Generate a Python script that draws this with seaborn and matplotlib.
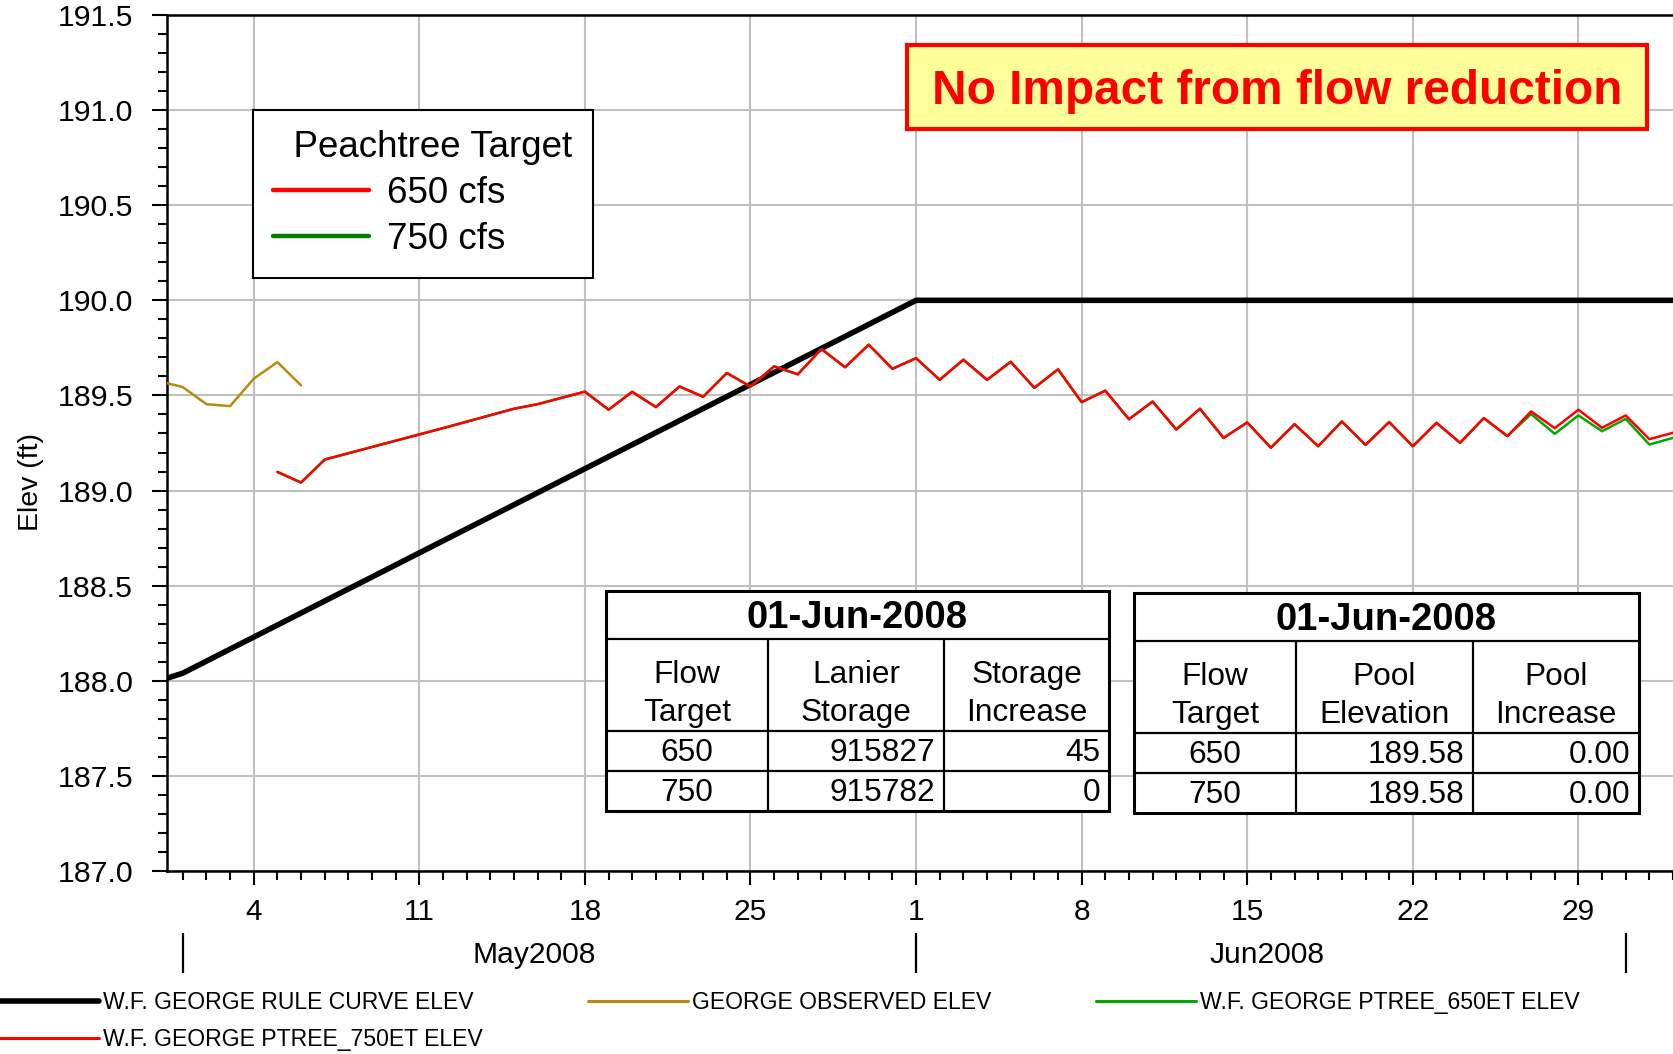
import numpy as np
import pandas as pd
import matplotlib
matplotlib.use("Agg")
import matplotlib.pyplot as plt
import matplotlib.dates as mdates
from matplotlib.lines import Line2D
from matplotlib.patches import Rectangle
from matplotlib.transforms import Affine2D
from matplotlib.ticker import MultipleLocator, FormatStrFormatter
import seaborn as sns

# ---------------- data ----------------
rule_dates = ["2008-04-30", "2008-05-01", "2008-06-01", "2008-07-04"]
rule_elev = [188.00, 188.04, 190.00, 190.00]

obs_dates = ["2008-04-30", "2008-05-01", "2008-05-02", "2008-05-03",
             "2008-05-04", "2008-05-05", "2008-05-06"]
obs_elev = [189.575, 189.544, 189.454, 189.444, 189.588, 189.675, 189.553]

early_dates = ["2008-05-05", "2008-05-06", "2008-05-07", "2008-05-11",
               "2008-05-12", "2008-05-15", "2008-05-16"]
early_elev = [189.098, 189.042, 189.163, 189.295, 189.328, 189.430, 189.454]

daily_start = "2008-05-18"
# shared daily values May 18 .. Jun 26 (both runs identical)
shared_elev = [189.520, 189.425, 189.519, 189.439, 189.547, 189.493, 189.618,
               189.547, 189.653, 189.611, 189.744, 189.648, 189.767, 189.640,
               189.696, 189.582, 189.688, 189.582, 189.677, 189.540, 189.637,
               189.465, 189.525, 189.375, 189.468, 189.321, 189.430, 189.277,
               189.358, 189.225, 189.349, 189.233, 189.363, 189.240, 189.360,
               189.233, 189.356, 189.251, 189.381, 189.286]
# Jun 27 .. Jul 3
ptree750_tail = [189.416, 189.328, 189.425, 189.330, 189.395, 189.270, 189.304]
ptree650_tail = [189.402, 189.298, 189.395, 189.312, 189.377, 189.242, 189.277]

series_labels = ["W.F. GEORGE RULE CURVE ELEV", "GEORGE OBSERVED ELEV",
                 "W.F. GEORGE PTREE_650ET ELEV", "W.F. GEORGE PTREE_750ET ELEV"]
inner_legend_title = "Peachtree Target"
inner_legend_labels = ["650 cfs", "750 cfs"]
banner_text = "No Impact from flow reduction"

table_date = "01-Jun-2008"
flow_targets = [650, 750]
lanier_storage = [915827, 915782]
storage_increase = [45, 0]
pool_elevation = [189.58, 189.58]
pool_increase = [0.00, 0.00]
storage_headers = ["Flow\nTarget", "Lanier\nStorage", "Storage\nIncrease"]
pool_headers = ["Flow\nTarget", "Pool\nElevation", "Pool\nIncrease"]

month_starts = ["2008-05-01", "2008-06-01", "2008-07-01"]
month_labels = ["May2008", "Jun2008"]

# ---------------- style ----------------
sns.set_theme(style="white")
plt.rcParams["font.family"] = ["Liberation Sans", "DejaVu Sans"]
plt.rcParams["text.color"] = "black"
plt.rcParams["axes.labelcolor"] = "black"
plt.rcParams["xtick.color"] = "black"
plt.rcParams["ytick.color"] = "black"

C_RULE = "#000000"
C_OBS = "#B88C0A"
C_650 = "#00A800"
C_750 = "#FF0000"

W, H = 1674, 1054
fig = plt.figure(figsize=(W / 100, H / 100), dpi=100)
fig.patch.set_facecolor("white")
px = Affine2D().scale(1 / W, -1 / H).translate(0, 1) + fig.transFigure

ax = fig.add_axes([167 / W, 1 - 871 / H, (W - 167) / W, (871 - 15) / H])
ax.set_facecolor("white")

# ---------------- series ----------------
daily_dates = pd.date_range(daily_start, periods=len(shared_elev) + len(ptree750_tail))
ptree_dates = pd.to_datetime(early_dates).append(daily_dates)
ptree750 = early_elev + shared_elev + ptree750_tail
ptree650 = early_elev + shared_elev + ptree650_tail

sns.lineplot(x=pd.to_datetime(rule_dates), y=rule_elev, ax=ax, color=C_RULE,
             linewidth=4.0, legend=False, zorder=3)
sns.lineplot(x=pd.to_datetime(obs_dates), y=obs_elev, ax=ax, color=C_OBS,
             linewidth=1.8, legend=False, zorder=4)
sns.lineplot(x=ptree_dates, y=ptree650, ax=ax, color=C_650,
             linewidth=1.8, legend=False, zorder=5)
sns.lineplot(x=ptree_dates, y=ptree750, ax=ax, color=C_750,
             linewidth=1.8, legend=False, zorder=6)

# ---------------- axes ----------------
ax.set_xlim(pd.Timestamp("2008-04-30 08:00"), pd.Timestamp("2008-07-03 01:00"))
ax.set_ylim(187.0, 191.5)
ax.yaxis.set_major_locator(MultipleLocator(0.5))
ax.yaxis.set_minor_locator(MultipleLocator(0.1))
ax.yaxis.set_major_formatter(FormatStrFormatter("%.1f"))
ax.xaxis.set_major_locator(mdates.WeekdayLocator(byweekday=mdates.SU))
ax.xaxis.set_minor_locator(mdates.DayLocator())
ax.xaxis.set_major_formatter(mdates.DateFormatter("%-d"))

ax.grid(which="major", color="#C0C0C0", linewidth=1.5)
ax.set_axisbelow(True)
for s in ["left", "bottom", "top"]:
    ax.spines[s].set_color("black")
    ax.spines[s].set_linewidth(1.8)
ax.spines["right"].set_visible(False)

ax.tick_params(axis="y", which="major", length=10.8, width=1.5, pad=13.5,
               labelsize=21.8, direction="out", color="black", left=True, right=False)
ax.tick_params(axis="y", which="minor", length=6.8, width=1.5, direction="out",
               color="black", left=True, right=False)
ax.tick_params(axis="x", which="major", length=9.8, width=1.5, pad=9.5,
               labelsize=21.5, direction="out", color="black", bottom=True, top=False)
ax.tick_params(axis="x", which="minor", length=6.2, width=1.5, direction="out",
               color="black", bottom=True, top=False)
for lab in ax.get_xticklabels() + ax.get_yticklabels():
    lab.set_color("black")

ax.set_xlabel("")
ax.set_ylabel("Elev (ft)", fontsize=20.5, color="black")
ax.yaxis.set_label_coords((44 - 167) / (W - 167), (871 - 481.7) / 856)

# month brackets and labels
xt = ax.get_xaxis_transform()
ms = mdates.date2num(pd.to_datetime(month_starts))
ax.vlines(ms, (871 - 933) / 856, (871 - 973) / 856, transform=xt,
          colors="black", linewidth=1.6, clip_on=False)
for m, lab in zip(ms[:-1], month_labels):
    ax.text(m + 14.85, (871 - 955) / 856, lab, transform=xt, ha="center",
            va="center", fontsize=21.6, color="black")

# ---------------- inner legend ----------------
inner_handles = [Line2D([], [], color=C_750, lw=3.2),
                 Line2D([], [], color="#007F00", lw=3.2)]
leg = ax.legend(handles=inner_handles, labels=inner_legend_labels,
                title="  " + inner_legend_title, loc="upper left",
                bbox_to_anchor=(253 / W, 1 - 110 / H), bbox_transform=fig.transFigure,
                fontsize=26.5, title_fontsize=26.5, frameon=True, fancybox=False,
                edgecolor="black", framealpha=1, borderaxespad=0, borderpad=0.55,
                handlelength=2.6, handletextpad=0.5, labelspacing=0.3,
                alignment="left")
leg.get_frame().set_linewidth(1.5)
leg.get_title().set_color("black")
for t in leg.get_texts():
    t.set_color("black")
leg.set_zorder(10)

# ---------------- banner ----------------
fig.add_artist(Rectangle((907, 45), 740, 84, transform=px, facecolor="#FFFF99",
                         edgecolor="#FF0000", linewidth=3.0, zorder=10))
fig.text(1277, 103.5, banner_text, transform=px, ha="center", va="baseline",
         fontsize=34.4, fontweight="bold", color="#FF0000", zorder=11)

# ---------------- tables ----------------
def draw_table(x0, x1, cols, rows_y, headers, body, dy=0):
    top, r1, r2, r3, bot = [y + dy for y in rows_y]
    fig.add_artist(Rectangle((x0, top), x1 - x0, bot - top, transform=px,
                             facecolor="white", edgecolor="none", zorder=10))
    xs = [x0] + cols + [x1]
    for y in (r1, r2, r3):
        fig.add_artist(Line2D([x0, x1], [y, y], transform=px, color="black",
                              lw=1.6, zorder=11))
    for c in cols:
        fig.add_artist(Line2D([c, c], [r1, bot], transform=px, color="black",
                              lw=1.6, zorder=11))
    fig.add_artist(Rectangle((x0, top), x1 - x0, bot - top, transform=px,
                             facecolor="none", edgecolor="black", lw=2.2, zorder=12))
    fig.text((x0 + x1) / 2, (top + r1) / 2 + 3, table_date, transform=px,
             ha="center", va="center", fontsize=27.5, fontweight="bold",
             color="black", zorder=13)
    for i, h in enumerate(headers):
        fig.text((xs[i] + xs[i + 1]) / 2, (r1 + r2) / 2 + 9, h, transform=px,
                 ha="center", va="center", fontsize=22.8, color="black",
                 linespacing=1.37, zorder=13)
    for (ya, yb), row in zip([(r2, r3), (r3, bot)], body):
        yc = (ya + yb) / 2 + 2
        fig.text((xs[0] + xs[1]) / 2, yc, row[0], transform=px, ha="center",
                 va="center", fontsize=22.8, color="black", zorder=13)
        for j in (1, 2):
            fig.text(xs[j + 1] - 9, yc, row[j], transform=px, ha="right",
                     va="center", fontsize=22.8, color="black", zorder=13)

storage_body = [[str(f), str(s), str(d)] for f, s, d in
                zip(flow_targets, lanier_storage, storage_increase)]
pool_body = [[str(f), f"{p:.2f}", f"{d:.2f}"] for f, p, d in
             zip(flow_targets, pool_elevation, pool_increase)]
draw_table(606, 1109, [768, 944], [591, 639, 731, 771, 811], storage_headers, storage_body)
draw_table(1134, 1639, [1296, 1473], [591, 639, 731, 771, 811], pool_headers, pool_body, dy=2)

# ---------------- bottom legend ----------------
bottom_handles = [Line2D([], [], color=C_RULE, lw=4.0),
                  Line2D([], [], color=C_750, lw=2.2),
                  Line2D([], [], color=C_OBS, lw=2.2),
                  Line2D([], [], color=C_650, lw=2.2)]
bottom_labels = [series_labels[0], series_labels[3], series_labels[1], series_labels[2]]
bleg = fig.legend(handles=bottom_handles, labels=bottom_labels, ncol=3, loc="upper left",
                  bbox_to_anchor=(0, 1 - 991 / H), bbox_transform=fig.transFigure,
                  frameon=False, fontsize=16.6, handlelength=4.3, handletextpad=0.18,
                  columnspacing=4.57, borderpad=0, borderaxespad=0, labelspacing=0.62)
for t in bleg.get_texts():
    t.set_color("black")

fig.savefig("out.png", dpi=100, facecolor="white")
